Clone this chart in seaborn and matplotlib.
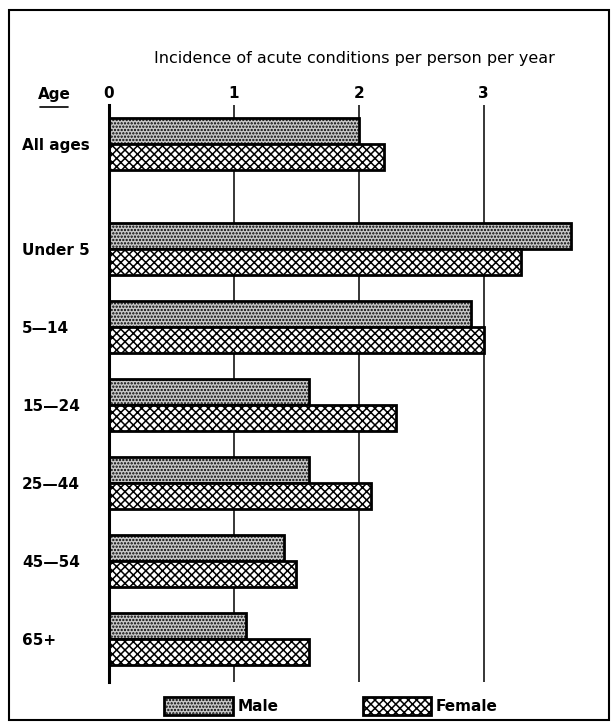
import numpy as np
import pandas as pd
import matplotlib
matplotlib.use("Agg")
import matplotlib.pyplot as plt
from matplotlib.lines import Line2D
from matplotlib.patches import Rectangle
import seaborn as sns

# Datos
edades = ['All ages', 'Under 5', '5\u201414', '15\u201424', '25\u201444', '45\u201454', '65+']
hombres = [2.0, 3.7, 2.9, 1.6, 1.6, 1.4, 1.1]
mujeres = [2.2, 3.3, 3.0, 2.3, 2.1, 1.5, 1.6]
ticks_x = [0, 1, 2, 3]

sns.set_theme(style="white")
plt.rcParams['font.family'] = ['DejaVu Sans']
plt.rcParams['text.color'] = 'black'
plt.rcParams['xtick.color'] = 'black'
plt.rcParams['ytick.color'] = 'black'
plt.rcParams['hatch.linewidth'] = 1.1

# posiciones: un hueco extra despues de "All ages"
idx = np.arange(len(edades))
pos = idx + 0.335 * (idx > 0)

df = pd.DataFrame({'edad': edades, 'pos': pos, 'Male': hombres, 'Female': mujeres})
largo = df.melt(id_vars=['edad', 'pos'], value_vars=['Male', 'Female'],
                var_name='sexo', value_name='tasa')

W, H = 615, 723
fig = plt.figure(figsize=(W / 100, H / 100), dpi=100)
ax = fig.add_axes([109 / W, 1 - 682 / H, (600 - 109) / W, (682 - 105) / H])

sns.barplot(data=largo, x='tasa', y='pos', hue='sexo', orient='y',
            native_scale=True, width=0.667, errorbar=None, saturation=1,
            palette={'Male': '#c8c8c8', 'Female': 'white'},
            edgecolor='black', linewidth=2.0, legend=False, ax=ax)

for barra in ax.containers[0]:
    barra.set_hatch('.....')
for barra in ax.containers[1]:
    barra.set_hatch('xxxx')

ax.set_xlim(0, 3.93)
ax.set_ylim(6.89, -0.506)

# eje superior
ax.xaxis.tick_top()
ax.set_xticks(ticks_x)
ax.set_xticklabels([str(t) for t in ticks_x], fontsize=11, fontweight='bold')
ax.tick_params(axis='x', length=0, pad=3)
ax.xaxis.grid(True, color='black', linewidth=1.1)
ax.set_axisbelow(True)

ax.set_yticks(pos)
ax.set_yticklabels(edades, fontsize=11, fontweight='bold')
ax.tick_params(axis='y', length=0, pad=62.6)
for lab in ax.get_yticklabels():
    lab.set_horizontalalignment('left')

ax.set_xlabel('')
ax.set_ylabel('')
for lado in ['top', 'right', 'bottom']:
    ax.spines[lado].set_visible(False)
ax.spines['left'].set_linewidth(2.2)
ax.spines['left'].set_color('black')

# titulo y "Age"
fig.text(354 / W, 1 - 58 / H, 'Incidence of acute conditions per person per year',
         ha='center', va='center', fontsize=11.5)
fig.text(54 / W, 1 - 95 / H, 'Age', ha='center', va='center', fontsize=11,
         fontweight='bold')
fig.add_artist(Line2D([40 / W, 68 / W], [1 - 107 / H, 1 - 107 / H],
                      transform=fig.transFigure, color='black', linewidth=1.2))

# leyenda
fig.legend(handles=[ax.containers[0][0], ax.containers[1][0]], labels=['Male', 'Female'],
           loc='center', bbox_to_anchor=(331 / W, 1 - 706 / H), ncol=2, frameon=False,
           prop={'size': 11, 'weight': 'bold'}, handlelength=4.5, handleheight=1.5,
           handletextpad=0.3, columnspacing=5.5)

# marco exterior
fig.add_artist(Rectangle((9 / W, 1 - 720 / H), 600 / W, 710 / H, transform=fig.transFigure,
                         fill=False, edgecolor='black', linewidth=1.5))

plt.savefig('out.png', dpi=100)
